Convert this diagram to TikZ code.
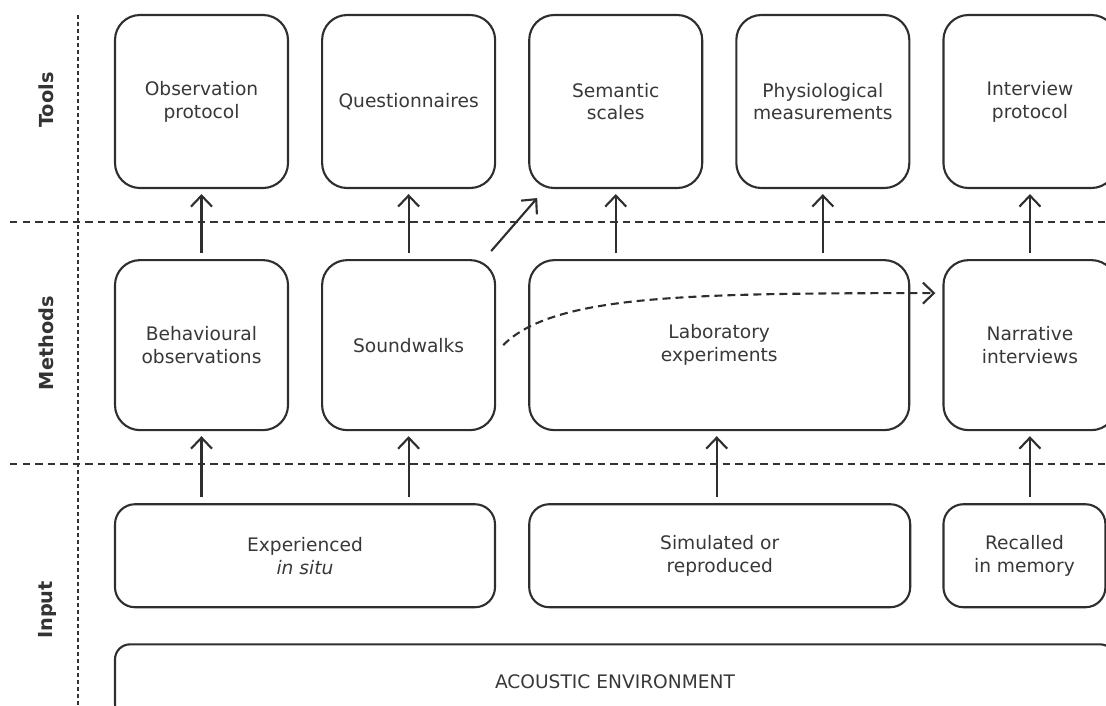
\documentclass[tikz,border=0pt]{standalone}
\usepackage{fontspec}
\setmainfont{DejaVu Sans}
\usetikzlibrary{arrows.meta, positioning, calc}

\begin{document}
\begin{tikzpicture}[
    node distance=1.4cm and 0.64cm,
    toolbox/.style={rectangle, draw=black!82, line width=1.2pt, rounded corners=0.5cm, minimum width=3.46cm, minimum height=3.46cm, align=center, text=black!78, font=\fontsize{10.6}{13}\selectfont},
    methodbox/.style={toolbox, minimum height=3.4cm},
    inputbox/.style={toolbox, rounded corners=0.4cm, minimum height=2.06cm},
    envbox/.style={toolbox, rounded corners=0.3cm, minimum height=1.5cm},
    rowlabel/.style={rotate=90, font=\bfseries\fontsize{11}{13}\selectfont, text=black!80},
    hsep/.style={draw=black!80, line width=1.1pt, dash pattern=on 0.15cm off 0.1cm},
    vsep/.style={draw=black!80, line width=1.2pt, dash pattern=on 0.08cm off 0.06cm},
    arrow/.style={-{Straight Barb[length=2.2mm, width=4.2mm]}, draw=black!82, line width=1.2pt, shorten <=0.12cm, shorten >=0.1cm},
    dasharrow/.style={arrow, shorten <=0pt, shorten >=0pt, dash pattern=on 0.16cm off 0.1cm},
]

\useasboundingbox (0,0) rectangle (22.12,-14.1);

% ============ Row labels and separators ============
\node[rowlabel] (ltools) at (0.92,-2.0) {Tools};
\node[rowlabel] (lmethods) at (0.92,-6.86) {Methods};
\node[rowlabel] (linput) at (0.94,-12.2) {Input};

\draw[vsep] (1.56,-0.3) -- (1.56,-14.1);
\draw[hsep] (0.2,-4.44) -- (22.12,-4.44);
\draw[hsep] (0.2,-9.28) -- (22.12,-9.28);

% ============ Tools ============
\node[toolbox] (obsprot) at (4.03,-2.03) {Observation\\protocol};
\node[toolbox, right=of obsprot] (quest) {Questionnaires};
\node[toolbox, right=of quest] (semantic) {Semantic\\scales};
\node[toolbox, right=of semantic] (physio) {Physiological\\measurements};
\node[toolbox, right=of physio] (intprot) {Interview\\protocol};

% ============ Methods ============
\node[methodbox, below=of obsprot] (behav) {Behavioural\\observations};
\node[methodbox, below=of quest] (soundw) {Soundwalks};
\node[methodbox, minimum width=7.6cm, below right=1.4cm and 0cm of semantic.south west] (lab) {Laboratory\\experiments};
\node[methodbox, below=of intprot] (narrative) {Narrative\\interviews};

% ============ Input ============
\node[inputbox, minimum width=7.6cm, below right=1.44cm and 0cm of behav.south west] (experienced) {Experienced\\\textit{in situ}};
\node[inputbox, minimum width=7.62cm, below right=1.44cm and 0cm of lab.south west] (simulated) {Simulated or\\reproduced};
\node[inputbox, minimum width=3.24cm, below right=1.44cm and 0cm of narrative.south west] (recalled) {Recalled\\in memory};

\node[envbox, minimum width=20cm, below right=0.7cm and 0cm of experienced.south west] (acoustic) {ACOUSTIC ENVIRONMENT};

% Methods to tools
\draw[arrow] (behav) -- (obsprot);
\draw[arrow] (soundw) -- (quest);
\draw[arrow] (lab.north -| semantic) -- (semantic);
\draw[arrow] (lab.north -| physio) -- (physio);
\draw[arrow] (narrative) -- (intprot);
\draw[arrow, shorten <=0pt, shorten >=0pt] ([shift={(-0.1,0.16)}]soundw.north east) -- ([shift={(0.18,-0.18)}]semantic.south west);

% Input to methods
\draw[arrow] (experienced.north -| behav) -- (behav);
\draw[arrow] (experienced.north -| soundw) -- (soundw);
\draw[arrow] ([xshift=-0.06cm]simulated.north) -- ([xshift=-0.06cm]simulated.north |- lab.south);
\draw[arrow] (recalled.north -| narrative) -- (narrative);

% Soundwalks to narrative interviews
\draw[dasharrow] ([xshift=0.14cm]soundw.east) .. controls +(1.0,1.0) and +(-5,0) .. ([xshift=-0.14cm, yshift=1.04cm]narrative.west);

\end{tikzpicture}
\end{document}
